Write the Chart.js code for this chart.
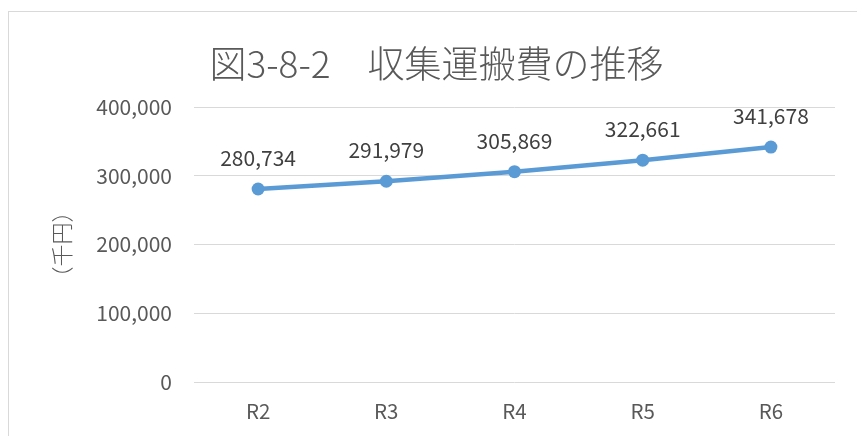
<!DOCTYPE html>
<html>
<head>
<meta charset="utf-8">
<script src="https://cdn.jsdelivr.net/npm/chart.js@4"></script>
<style>
html,body{margin:0;padding:0;background:#fff;}
#frame{position:absolute;left:8px;top:11px;width:900px;height:500px;border:1px solid #d9d9d9;box-sizing:border-box;}
#wrap{position:absolute;left:0;top:0;width:857px;height:436px;}
</style>
</head>
<body>
<div id="frame"></div>
<div id="wrap"><canvas id="c" width="857" height="436"></canvas></div>
<script>
const categories = ["R2", "R3", "R4", "R5", "R6"];
const costValues = [280734, 291979, 305869, 322661, 341678];
const yTicks = [0, 100000, 200000, 300000, 400000];
const titleText = "図3-8-2　収集運搬費の推移";
const yAxisTitle = "（千円）";

const fontFam = "'Noto Sans CJK JP', 'Noto Sans', sans-serif";
const fmt = v => v.toLocaleString('en-US');

const labelPlugin = {
  id: 'pointLabels',
  afterDatasetsDraw(chart) {
    const ctx = chart.ctx;
    const meta = chart.getDatasetMeta(0);
    ctx.save();
    ctx.font = "21px " + fontFam;
    ctx.fillStyle = "#404040";
    ctx.textAlign = "center";
    ctx.textBaseline = "middle";
    meta.data.forEach((pt, i) => {
      ctx.fillText(fmt(costValues[i]), pt.x, pt.y - 31);
    });
    ctx.restore();
  }
};

new Chart(document.getElementById('c'), {
  type: 'line',
  data: {
    labels: categories,
    datasets: [{
      data: costValues,
      borderColor: '#5b9bd5',
      backgroundColor: '#5b9bd5',
      borderWidth: 4.5,
      pointRadius: 6.5,
      pointBorderWidth: 0,
      pointBackgroundColor: '#5b9bd5',
      tension: 0
    }]
  },
  options: {
    responsive: false,
    animation: false,
    devicePixelRatio: 1,
    layout: { padding: { left: 38, right: 22, top: 0, bottom: 0 } },
    plugins: {
      legend: { display: false },
      tooltip: { enabled: false },
      title: {
        display: true,
        text: titleText,
        color: '#595959',
        font: { family: fontFam, size: 37, weight: '300' },
        padding: { top: 42, bottom: 20.6 }
      }
    },
    scales: {
      x: {
        offset: true,
        grid: { display: false },
        border: { display: false },
        ticks: { color: '#595959', font: { family: fontFam, size: 20.5 }, padding: 9 },
        afterFit: s => { s.height = 54; }
      },
      y: {
        min: 0, max: 400000,
        afterBuildTicks: s => { s.ticks = yTicks.map(v => ({ value: v })); },
        grid: { color: '#d9d9d9', lineWidth: 1, drawTicks: false },
        border: { display: false },
        ticks: { color: '#595959', font: { family: fontFam, size: 21 }, padding: 22, callback: v => fmt(v) },
        title: {
          display: true,
          text: yAxisTitle,
          color: '#595959',
          font: { family: fontFam, size: 22, weight: '300' },
          padding: { top: 10.8, bottom: 0 }
        },
        afterFit: s => { s.width = 156; }
      }
    }
  },
  plugins: [labelPlugin]
});
</script>
</body>
</html>
